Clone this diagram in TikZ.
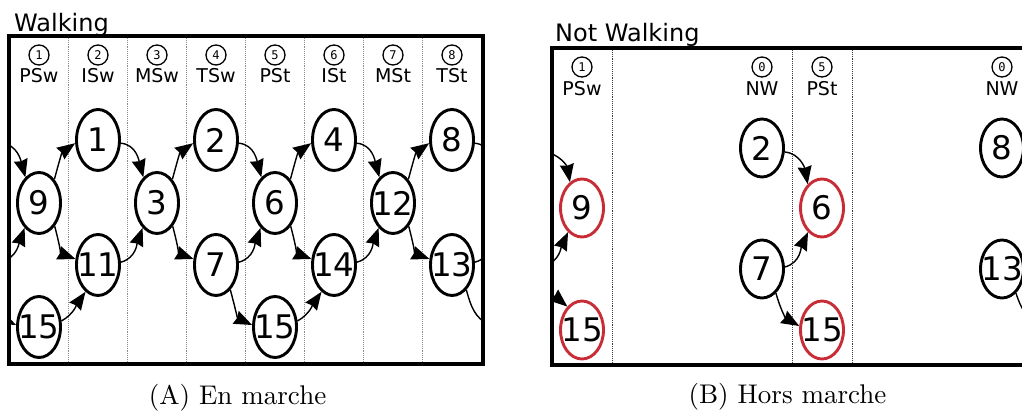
\documentclass[tikz,border=0pt]{standalone}
\usepackage{fontspec}
\newfontfamily\dvsans{DejaVu Sans}
\newfontfamily\dvmono{DejaVu Sans Mono}
\newfontfamily\lmten{lmroman10-regular}[Extension=.otf]
\usetikzlibrary{shapes.geometric,arrows.meta}
\definecolor{nred}{RGB}{200,45,55}
\definecolor{dotgray}{RGB}{140,140,140}
\begin{document}
\begin{tikzpicture}[x=1pt,y=1pt,
  nd/.style={ellipse,draw,fill=white,line width=2.9pt,minimum width=43pt,minimum height=61pt,inner sep=0pt},
  ndb/.style={ellipse,draw,fill=white,line width=2.9pt,minimum width=43pt,minimum height=58pt,inner sep=0pt},
  hot/.style={draw=nred},
  num/.style={font=\dvsans\fontsize{32.5}{32.5}\selectfont,inner sep=0pt},
  cn/.style={circle,draw,line width=1.3pt,minimum size=20pt,inner sep=0pt,font=\dvmono\fontsize{12}{12}\selectfont},
  lb/.style={anchor=base,inner sep=0pt,font=\dvsans\fontsize{19}{19}\selectfont},
  ttl/.style={anchor=base west,inner sep=0pt,font=\dvsans\fontsize{24}{24}\selectfont},
  captxt/.style={anchor=base,inner sep=0pt,font=\lmten\fontsize{27}{27}\selectfont},
  divl/.style={dotgray,densely dotted,line width=0.9pt},
  fr/.style={line width=3.4pt},
  ed/.style={line width=1.4pt,-{Stealth[length=18pt,width=14pt,inset=1.5pt]}},
]
\useasboundingbox (0,0) rectangle (1022,-411);
\clip (0,0) rectangle (1022,-411);

% ================= Panel A =================
\node[ttl] (ta) at (14,-32) {Walking};
\foreach \x in {68.5,127.5,186.5,245.5,304.5,363.5,422.5}
  \draw[divl] (\x,-38) -- (\x,-362);
\foreach \i/\t [count=\k from 0] in {1/PSw,2/ISw,3/MSw,4/TSw,5/PSt,6/ISt,7/MSt,8/TSt}{
  \node[cn] (ca\i) at (39+59*\k,-55) {\i};
  \node[lb] (la\i) at (39+59*\k,-83) {\t};
}
% nodes
\node[nd,label={[num]center:9}]  (a9)  at (39,-203) {};
\node[nd,label={[num]center:15}] (a15) at (39,-327) {};
\node[nd,label={[num]center:1}]  (a1)  at (98,-140) {};
\node[nd,label={[num]center:11}] (a11) at (98,-265) {};
\node[nd,label={[num]center:3}]  (a3)  at (157,-203) {};
\node[nd,label={[num]center:2}]  (a2)  at (216,-140) {};
\node[nd,label={[num]center:7}]  (a7)  at (216,-265) {};
\node[nd,label={[num]center:6}]  (a6)  at (275,-203) {};
\node[nd,label={[num]center:15}] (a15b) at (275,-327) {};
\node[nd,label={[num]center:4}]  (a4)  at (334,-140) {};
\node[nd,label={[num]center:14}] (a14) at (334,-265) {};
\node[nd,label={[num]center:12}] (a12) at (393,-203) {};
\node[nd,label={[num]center:8}]  (a8)  at (452,-140) {};
\node[nd,label={[num]center:13}] (a13) at (452,-265) {};
% free ends
\coordinate (a8v)   at (1.3,-143);
\coordinate (a13vA) at (1.3,-262);
\coordinate (a13vB) at (-6.4,-288.6);
\coordinate (a9vA)  at (497.4,-179.4);
\coordinate (a9vB)  at (497.4,-226.6);
\coordinate (a15v)  at (489.5,-325);
\begin{scope}
\clip (9,-36) rectangle (483,-364);
% mid -> top
\foreach \s/\d in {a9/a1,a3/a2,a6/a4,a12/a8}
  \draw[ed] (\s.57) to[out=75,in=215] (\d.188);
% mid -> low
\foreach \s/\d in {a9/a11,a3/a7,a6/a14,a12/a13}
  \draw[ed] (\s.-56) to[out=-75,in=160] (\d.165);
% top -> mid
\foreach \s/\d in {a1/a3,a2/a6,a4/a12}
  \draw[ed] (\s.-8) to[out=-5,in=105] (\d.118);
% low -> mid
\foreach \s/\d in {a11/a3,a7/a6,a14/a12}
  \draw[ed] (\s.7) to[out=15,in=250] (\d.240);
% row4 -> row3
\foreach \s/\d in {a15/a11,a15b/a14}
  \draw[ed] (\s.15) to[out=30,in=235] (\d.245);
% row3 -> row4
\draw[ed] (a7.-60) to[out=-75,in=155] (a15b.175);
% wrap-around
\draw[ed] (a8v) to[out=-5,in=105] (a9.118);
\draw[ed] (a13vA) to[out=15,in=250] (a9.240);
\draw[ed] (a13vB) to[out=-75,in=155] (a15.175);
\draw[line width=1.4pt] (a8.-8) to[out=-5,in=105] (a9vA);
\draw[line width=1.4pt] (a13.7) to[out=15,in=250] (a9vB);
\draw[line width=1.4pt] (a13.-60) to[out=-75,in=155] (a15v);
\end{scope}
\draw[fr] (9,-36) rectangle (483,-364);
\node[captxt] (capA) at (237.5,-404) {(A) En marche};

% ================= Panel B =================
\node[ttl] (tb) at (555,-42) {Not Walking};
\foreach \x in {612,792,852}
  \draw[divl,black!75] (\x,-50) -- (\x,-363);
\foreach \i/\t/\xx in {1/PSw/582,0/NW/762,5/PSt/822,0/NW/1002}{
  \node[cn] (cb\xx) at (\xx,-67) {\i};
  \node[lb] (lb\xx) at (\xx,-96) {\t};
}
\node[ndb,hot,label={[num]center:9}]  (b9)  at (582,-208) {};
\node[ndb,hot,label={[num]center:15}] (b15) at (582,-330) {};
\node[ndb,label={[num]center:2}]  (b2)  at (762,-148) {};
\node[ndb,label={[num]center:7}]  (b7)  at (762,-269) {};
\node[ndb,hot,label={[num]center:6}]  (b6)  at (822,-208) {};
\node[ndb,hot,label={[num]center:15}] (b15b) at (822,-330) {};
\node[ndb,label={[num]center:8}]  (b8)  at (1002,-148) {};
\node[ndb,label={[num]center:13}] (b13) at (1002,-269) {};
\coordinate (b8v)   at (544,-152);
\coordinate (b13vA) at (544,-266);
\coordinate (b13vB) at (533,-290);
\coordinate (b15v)  at (1040,-326);
\begin{scope}
\clip (552,-48) rectangle (1032,-365);
\draw[ed] (b2.-10) to[out=-5,in=100] (b6.121);
\draw[ed] (b7.5) to[out=15,in=245] (b6.240);
\draw[ed] (b7.-60) to[out=-75,in=150] (b15b.170);
\draw[ed] (b8v) to[out=-5,in=100] (b9.115);
\draw[ed] (b13vA) to[out=15,in=245] (b9.240);
\draw[ed] (b13vB) to[out=-25,in=140] (b15.122);
\draw[line width=1.4pt] (b13.-60) to[out=-72,in=150] (b15v);
\end{scope}
\draw[line width=3.2pt] (552,-48) rectangle (1032,-365);
\node[captxt] (capB) at (787.5,-403) {(B) Hors marche};
\end{tikzpicture}
\end{document}
